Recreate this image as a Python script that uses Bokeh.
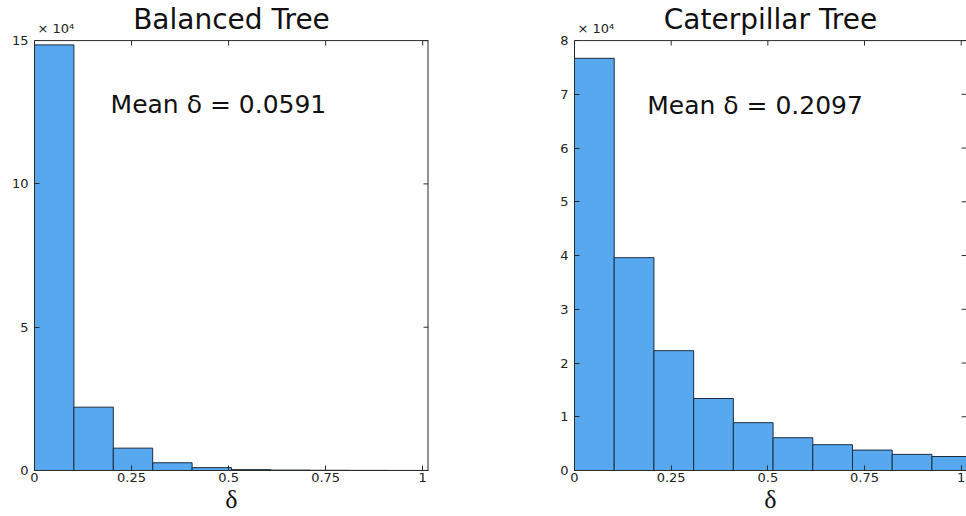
from bokeh.plotting import figure
from bokeh.layouts import row
from bokeh.models import (LinearAxis, FixedTicker, CustomJSTickFormatter,
                          Label, Range1d)
from bokeh.embed import file_html
from bokeh.resources import INLINE

# Histogram counts of delta, 10 equal bins from 0 to the largest delta
balanced_counts = [148500, 22100, 7800, 2700, 1000, 300, 150, 80, 40, 20]
balanced_max_delta = 1.015
balanced_mean = 0.0591

caterpillar_counts = [76700, 39600, 22300, 13400, 8900, 6100, 4800, 3800, 3000, 2600]
caterpillar_max_delta = 1.027
caterpillar_mean = 0.2097

x_ticks = [0, 0.25, 0.5, 0.75, 1]
x_tick_labels = {0: "0", 0.25: "0.25", 0.5: "0.5", 0.75: "0.75", 1: "1"}
balanced_y_ticks = [0, 50000, 100000, 150000]
caterpillar_y_ticks = [0, 10000, 20000, 30000, 40000, 50000, 60000, 70000, 80000]

BAR_FILL = "#56a9ee"
BAR_LINE = "#1d2b3f"
AXIS_COLOR = "#2a2a2a"
SANS = "DejaVu Sans"

PLOT_H = 429      # pixel height of the axes box
TOP_ROOM = 40     # pixels above the axes box kept for the title


def histogram_panel(title, counts, max_delta, mean, y_ticks, y_top, width,
                    border_right, boxed, x_end, mean_x, mean_y):
    n = len(counts)
    w = max_delta / n
    lefts = [i * w for i in range(n)]
    rights = [(i + 1) * w for i in range(n)]
    px = y_top / PLOT_H   # data units per pixel on y

    p = figure(width=width, height=516, output_backend="svg",
               toolbar_location=None, x_range=Range1d(0, x_end),
               y_range=Range1d(0, y_top + TOP_ROOM * px),
               x_axis_type=None, y_axis_type=None,
               min_border_left=34, min_border_right=border_right,
               min_border_top=0, min_border_bottom=46)
    p.outline_line_color = None
    p.xgrid.visible = False
    p.ygrid.visible = False
    p.background_fill_color = "white"
    p.border_fill_color = "white"

    p.quad(left=lefts, right=rights, bottom=0, top=counts,
           fill_color=BAR_FILL, line_color=BAR_LINE, line_width=1)

    # bottom axis with the delta label
    xb = LinearAxis(ticker=FixedTicker(ticks=x_ticks),
                    major_label_overrides=x_tick_labels)
    xb.minor_tick_line_color = None
    xb.major_tick_in = 5
    xb.major_tick_out = 0
    xb.axis_line_color = AXIS_COLOR
    xb.major_tick_line_color = AXIS_COLOR
    xb.major_label_text_font = SANS
    xb.major_label_text_font_size = "13px"
    xb.major_label_text_color = "#222222"
    xb.major_label_standoff = 2
    xb.axis_label = "\u03b4"
    xb.axis_label_text_font = "Liberation Serif"
    xb.axis_label_text_font_size = "26px"
    xb.axis_label_text_font_style = "normal"
    xb.axis_label_text_color = "#111111"
    xb.axis_label_standoff = 0
    p.add_layout(xb, "below")

    # left axis, counts shown in units of 10^4
    yl = LinearAxis(ticker=FixedTicker(ticks=y_ticks), bounds=(0, y_top),
                    formatter=CustomJSTickFormatter(code="return String(tick / 10000);"))
    yl.minor_tick_line_color = None
    yl.major_tick_in = 5
    yl.major_tick_out = 0
    yl.axis_line_color = AXIS_COLOR
    yl.major_tick_line_color = AXIS_COLOR
    yl.major_label_text_font = SANS
    yl.major_label_text_font_size = "13px"
    yl.major_label_text_color = "#222222"
    yl.major_label_standoff = 6
    p.add_layout(yl, "left")

    # top edge of the axes box and its inward ticks
    p.segment(x0=0, y0=y_top, x1=x_end, y1=y_top, line_color=AXIS_COLOR,
              line_width=1)
    p.ray(x=x_ticks, y=y_top, length=5, length_units="screen", angle=-90,
          angle_units="deg", line_color=AXIS_COLOR, line_width=1)

    if boxed:
        p.segment(x0=x_end, y0=0, x1=x_end, y1=y_top, line_color=AXIS_COLOR,
                  line_width=2)
        p.ray(x=x_end, y=y_ticks, length=5, length_units="screen", angle=180,
              angle_units="deg", line_color=AXIS_COLOR, line_width=1)
    else:
        p.ray(x=max_delta, y=y_ticks, length=10, length_units="screen",
              angle=180, angle_units="deg", line_color=AXIS_COLOR, line_width=1)

    p.add_layout(Label(x=x_end / 2, y=y_top + 21 * px, text=title,
                       text_align="center", text_baseline="middle",
                       text_font=SANS, text_font_size="28px",
                       text_color="#111111"))
    p.add_layout(Label(x=0, y=y_top + 12 * px, x_offset=3,
                       text="\u00d7 10\u2074", text_align="left",
                       text_baseline="middle", text_font=SANS,
                       text_font_size="13px", text_color="#222222"))
    p.add_layout(Label(x=mean_x, y=mean_y, text=f"Mean \u03b4 = {mean:.4f}",
                       text_align="left", text_baseline="middle",
                       text_font=SANS, text_font_size="25px",
                       text_color="#111111"))
    return p


left = histogram_panel("Balanced Tree", balanced_counts, balanced_max_delta,
                       balanced_mean, balanced_y_ticks, 150000, 540, 112,
                       True, balanced_max_delta, 0.196, 127600)
right = histogram_panel("Caterpillar Tree", caterpillar_counts,
                        caterpillar_max_delta, caterpillar_mean,
                        caterpillar_y_ticks, 80000, 426, 0, False, 1.0137,
                        0.188, 68000)

layout = row(left, right)
open("out.html", "w").write(file_html(layout, INLINE))
